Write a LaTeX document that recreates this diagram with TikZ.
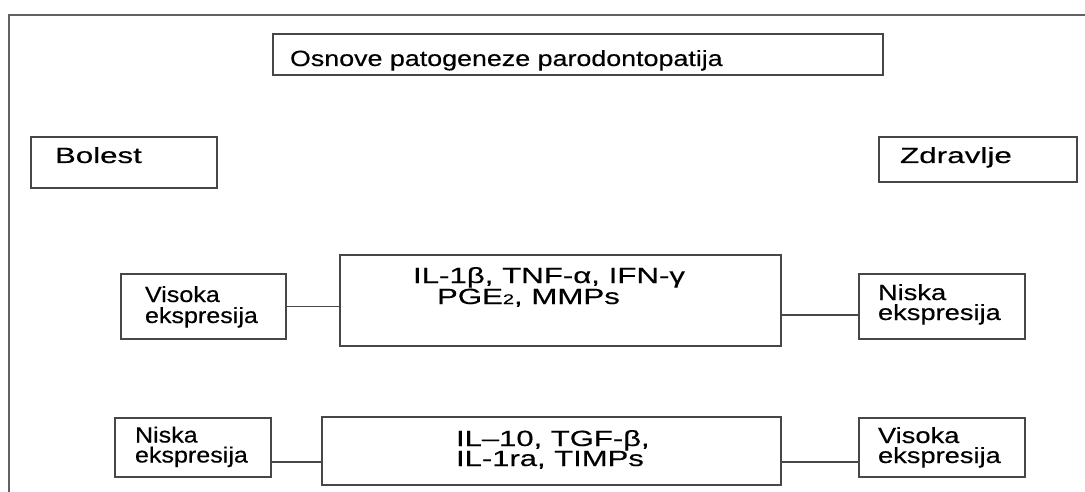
\documentclass[tikz,border=0pt]{standalone}
\usepackage{fontspec}
\setmainfont{Liberation Sans}[FakeBold=0.3]
\usepackage{graphicx}
\definecolor{boxgray}{gray}{0.28}
\definecolor{framegray}{gray}{0.38}
\newcommand\twolines[3]{\vtop{\baselineskip=#1\lineskiplimit=-\maxdimen\hbox{#2}\hbox{#3}}}
\newcommand\sx[2]{\scalebox{#1}[1]{#2}}
\newcommand\subtwo{{\fontsize{14}{14}\selectfont 2}}
\begin{document}
\begin{tikzpicture}[x=1pt,y=-1pt,
  box/.style={draw=boxgray,line width=1.6pt,inner sep=0pt,outer sep=0pt,anchor=north west},
  link/.style={draw=boxgray,line width=1.2pt},
  frameline/.style={draw=framegray,line width=1.5pt},
  txt/.style={anchor=base west,inner sep=0pt,outer sep=0pt,font=\fontsize{22}{22}\selectfont,text=black}]
\useasboundingbox (0,0) rectangle (1085,492);
\fill[white] (0,0) rectangle (1085,492);
% outer frame
\draw[frameline] (9,492) -- (9,15) -- (1085,15);
% boxes
\node[box,minimum width=610pt,minimum height=41pt] (title) at (273,34) {};
\node[box,minimum width=186pt,minimum height=51pt] (bolest) at (31,137) {};
\node[box,minimum width=198pt,minimum height=45pt] (zdrav) at (879,137) {};
\node[box,minimum width=165pt,minimum height=65pt] (vis1) at (121,274) {};
\node[box,minimum width=441pt,minimum height=91pt] (big1) at (340,255) {};
\node[box,minimum width=166pt,minimum height=65pt] (nis1) at (859,274) {};
\node[box,minimum width=156pt,minimum height=59pt] (nis2) at (115,418) {};
\node[box,minimum width=459pt,minimum height=68pt] (big2) at (322,417) {};
\node[box,minimum width=166pt,minimum height=59pt] (vis2) at (859,418) {};
% texts
\node[txt] (ttitle) at (290,66) {\sx{1.22}{Osnove patogeneze parodontopatija}};
\node[txt] (tbolest) at (55,163) {\sx{1.42}{Bolest}};
\node[txt] (tzdrav) at (900,163) {\sx{1.43}{Zdravlje}};
\node[txt] (tvis1) at (145,302) {\sx{1.14}{\twolines{21pt}{Visoka}{ekspresija}}};
\node[txt] (tnis1) at (878,300) {\sx{1.24}{\twolines{20pt}{Niska}{ekspresija}}};
\node[txt] (tbig1) at (413,283) {\sx{1.42}{\twolines{21pt}{IL-1β, TNF-α, IFN-γ}{\hskip16.9pt PGE\subtwo, MMPs}}};
\node[txt] (tnis2) at (135,442.5) {\sx{1.14}{\twolines{20pt}{Niska}{ekspresija}}};
\node[txt] (tbig2) at (456,446) {\sx{1.41}{\twolines{20pt}{IL–10, TGF-β,}{IL-1ra, TIMPs}}};
\node[txt] (tvis2) at (878,443) {\sx{1.24}{\twolines{20pt}{Visoka}{ekspresija}}};
% connectors
\draw[link] (vis1.east) -- (vis1.east -| big1.west);
\coordinate (c1) at ([yshift=-8.5pt]nis1.west);
\draw[link] (c1 -| big1.east) -- (c1);
\coordinate (c2) at ([yshift=-14.5pt]nis2.east);
\draw[link] (c2) -- (c2 -| big2.west);
\coordinate (c3) at ([yshift=-14.5pt]vis2.west);
\draw[link] (c3 -| big2.east) -- (c3);
\end{tikzpicture}
\end{document}
